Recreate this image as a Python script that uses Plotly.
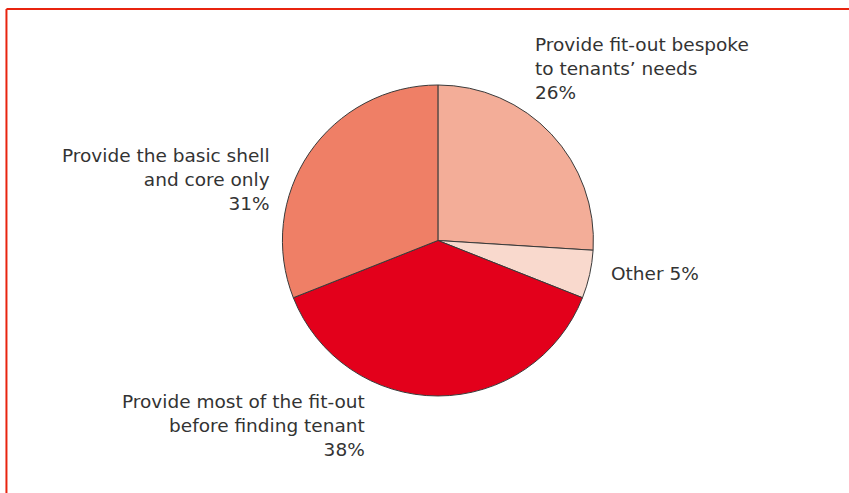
import plotly.graph_objects as go

# Survey responses: how developers approach fit-out
labels = [
    "Provide fit-out bespoke<br>to tenants’ needs",
    "Other",
    "Provide most of the fit-out<br>before finding tenant",
    "Provide the basic shell<br>and core only",
]
values = [26, 5, 38, 31]
colors = ["#f3ad98", "#f9d9cd", "#e3001b", "#ef7f66"]

# label placement: (x, y, xanchor, align, separator before value)
label_pos = [
    (0.628, 0.862, "left", "left", "<br>"),
    (0.717, 0.446, "left", "left", " "),
    (0.432, 0.136, "right", "right", "<br>"),
    (0.320, 0.635, "right", "right", "<br>"),
]

fig = go.Figure(
    go.Pie(
        labels=labels,
        values=values,
        sort=False,
        direction="clockwise",
        rotation=0,
        marker=dict(colors=colors, line=dict(color="#3a3a3a", width=1)),
        textinfo="none",
        hoverinfo="label+percent",
        domain=dict(x=[0.332, 0.6996], y=[0.1968, 0.8276]),
        showlegend=False,
    )
)

for lab, val, (x, y, xa, al, sep) in zip(labels, values, label_pos):
    fig.add_annotation(
        x=x, y=y, xref="paper", yref="paper",
        xanchor=xa, yanchor="middle", align=al,
        text=f"{lab}{sep}{val}%",
        showarrow=False,
        font=dict(family="DejaVu Sans", size=18.5, color="#333333"),
    )

# red frame along top and left edges
frame = dict(color="#e8240f", width=2)
fig.add_shape(type="line", xref="paper", yref="paper",
              x0=0.0076, y0=0.9817, x1=1.0, y1=0.9817, line=frame)
fig.add_shape(type="line", xref="paper", yref="paper",
              x0=0.0076, y0=0.9817, x1=0.0076, y1=0.0, line=frame)

fig.update_layout(
    width=849, height=493,
    margin=dict(l=0, r=0, t=0, b=0),
    paper_bgcolor="white",
    plot_bgcolor="white",
)

fig.write_html("out.html")
